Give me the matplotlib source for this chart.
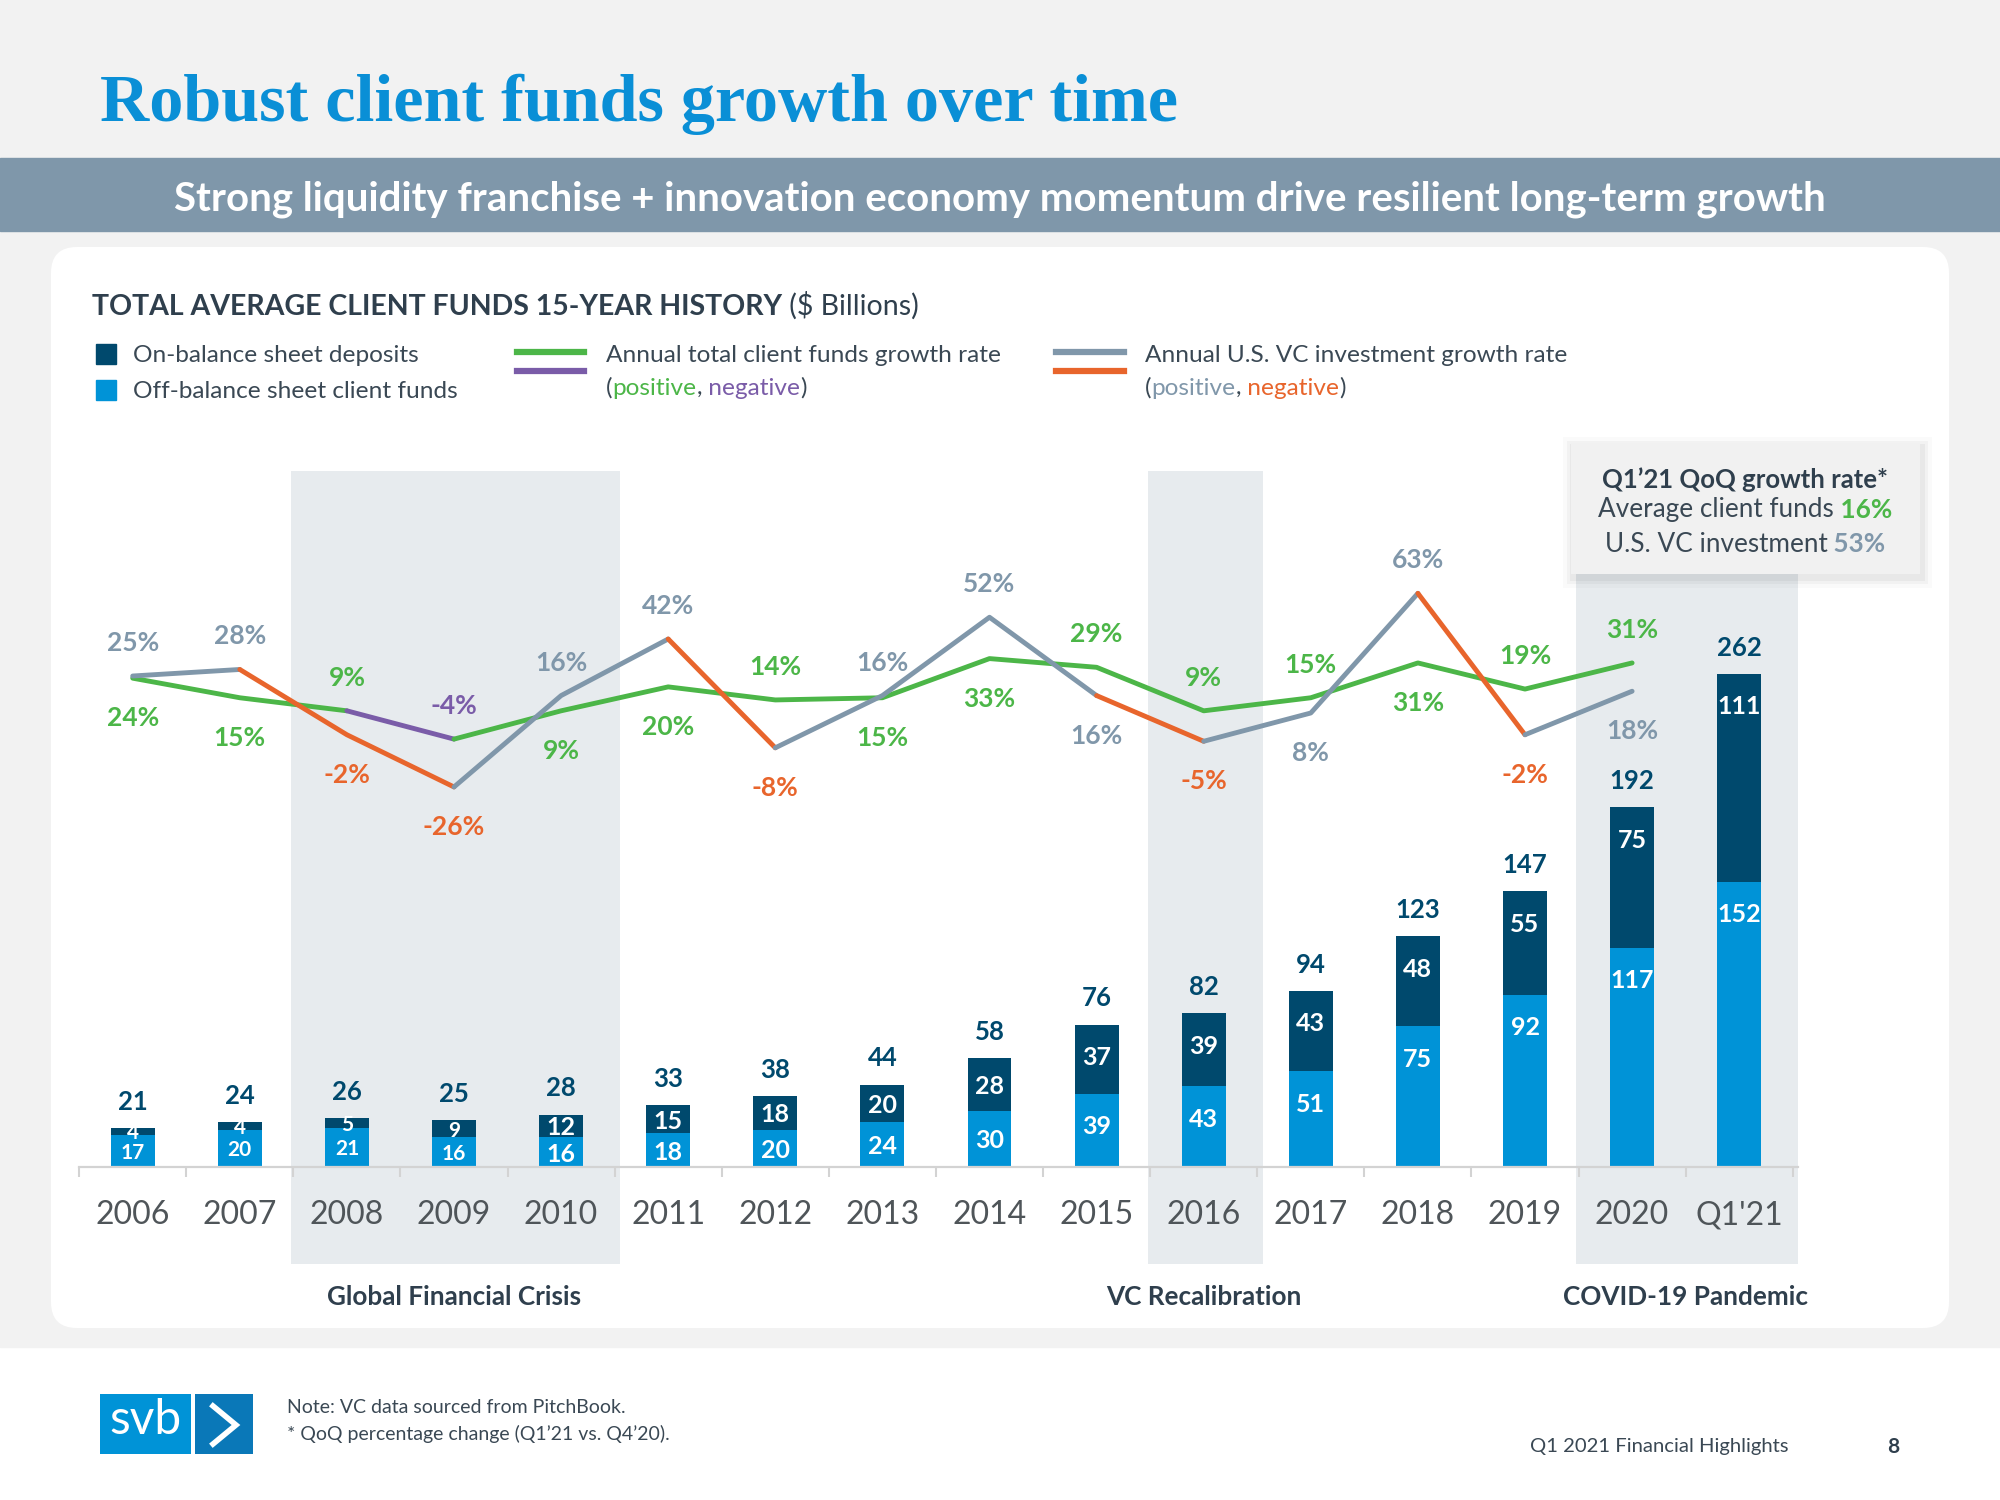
import numpy as np
import matplotlib
matplotlib.use('Agg')
import matplotlib.pyplot as plt
from matplotlib.patches import Rectangle, FancyBboxPatch
from matplotlib.offsetbox import TextArea, HPacker, AnnotationBbox

plt.rcParams['font.family'] = ['Lato', 'DejaVu Sans']

# ---------------- data ----------------
years = ['2006', '2007', '2008', '2009', '2010', '2011', '2012', '2013',
         '2014', '2015', '2016', '2017', '2018', '2019', '2020', "Q1'21"]
off_balance = [17, 20, 21, 16, 16, 18, 20, 24, 30, 39, 43, 51, 75, 92, 117, 152]
on_balance = [4, 4, 5, 9, 12, 15, 18, 20, 28, 37, 39, 43, 48, 55, 75, 111]
totals = [21, 24, 26, 25, 28, 33, 38, 44, 58, 76, 82, 94, 123, 147, 192, 262]
funds_growth = [24, 15, 9, -4, 9, 20, 14, 15, 33, 29, 9, 15, 31, 19, 31]
vc_growth = [25, 28, -2, -26, 16, 42, -8, 16, 52, 16, -5, 8, 63, -2, 18]
periods = [('Global Financial Crisis', 2, 4),
           ('VC Recalibration', 10, 10),
           ('COVID-19 Pandemic', 14, 15)]
qoq_funds = '16%'
qoq_vc = '53%'

# ---------------- colours ----------------
DARK = '#00496d'
LIGHT = '#0093d7'
TITLE_BLUE = '#0a8fd6'
SLATE = '#2f3f4d'
TEXT = '#3a4854'
BANNER = '#7f97aa'
SHADE = '#e7ebee'
PAGE = '#f2f2f2'
GREEN = '#4cb648'
PURPLE = '#7a5ca8'
GREY = '#8097aa'
ORANGE = '#e8652c'

# ---------------- layout (pixels) ----------------
W, H = 2000, 1500
X0_PX, DX_PX = 132.7, 107.1      # first category centre, spacing
BASE_PX, BAR_PX = 1167, 1.875    # bar baseline, px per $B
PCT0_PX, PCT_PX = 730.4, 2.176   # 0% line, px per %
AX_L, AX_R, AX_T, AX_B = 60, 1940, 471, 1264

fig = plt.figure(figsize=(W / 100, H / 100), dpi=100, facecolor='white')
renderer = fig.canvas.get_renderer()

bg = fig.add_axes([0, 0, 1, 1])
bg.set_xlim(0, W)
bg.set_ylim(H, 0)
bg.set_axis_off()


def fit(t, width):
    w = t.get_window_extent(renderer).width
    t.set_fontsize(t.get_fontsize() * width / w)


def rich(axis, x, y, parts, align=0.0, size=16):
    kids = [TextArea(s, textprops=dict(fontsize=size, **p)) for s, p in parts]
    box = HPacker(children=kids, align='baseline', pad=0, sep=0)
    ab = AnnotationBbox(box, (x, y), xycoords='data', box_alignment=(align, 0.5),
                        frameon=False, pad=0, annotation_clip=False)
    axis.add_artist(ab)


# page background, banner, panel
bg.add_patch(Rectangle((0, 0), W, 1347, color=PAGE, zorder=0))
bg.add_patch(Rectangle((0, 158), W, 73, color=BANNER, zorder=1))
bg.add_patch(FancyBboxPatch((51, 247), 1898, 1081,
                            boxstyle='round,pad=0,rounding_size=26',
                            fc='white', ec='none', zorder=1))

t = bg.text(100, 121, 'Robust client funds growth over time', family='Liberation Serif',
            weight='bold', color=TITLE_BLUE, fontsize=50, va='baseline', zorder=3)
fit(t, 1080)
t = bg.text(1000, 195, 'Strong liquidity franchise + innovation economy momentum drive resilient long-term growth',
            color='white', weight='bold', fontsize=28, ha='center', va='center_baseline', zorder=3)
fit(t, 1648)

rich(bg, 92, 306, [('TOTAL AVERAGE CLIENT FUNDS 15-YEAR HISTORY', dict(weight='bold', color=SLATE)),
                   (' ($ Billions)', dict(color=SLATE))], size=20.5)

# legend
LEG = 17.6
bg.add_patch(Rectangle((96, 344), 20, 20, color=DARK, zorder=3))
bg.add_patch(Rectangle((96, 380), 20, 20, color=LIGHT, zorder=3))
bg.text(133, 354, 'On-balance sheet deposits', fontsize=LEG, color=TEXT, va='center_baseline', zorder=3)
bg.text(133, 390, 'Off-balance sheet client funds', fontsize=LEG, color=TEXT, va='center_baseline', zorder=3)
bg.plot([517, 584], [352, 352], color=GREEN, lw=4.5, zorder=3)
bg.plot([517, 584], [371, 371], color=PURPLE, lw=4.5, zorder=3)
bg.text(606, 354, 'Annual total client funds growth rate', fontsize=LEG, color=TEXT,
        va='center_baseline', zorder=3)
rich(bg, 606, 388, [('(', dict(color=TEXT)), ('positive', dict(color=GREEN)), (',', dict(color=TEXT)),
                    (' negative', dict(color=PURPLE)), (')', dict(color=TEXT))], size=LEG)
bg.plot([1056, 1124], [352, 352], color=GREY, lw=4.5, zorder=3)
bg.plot([1056, 1124], [371, 371], color=ORANGE, lw=4.5, zorder=3)
bg.text(1145, 354, 'Annual U.S. VC investment growth rate', fontsize=LEG, color=TEXT,
        va='center_baseline', zorder=3)
rich(bg, 1145, 388, [('(', dict(color=TEXT)), ('positive', dict(color=GREY)), (',', dict(color=TEXT)),
                     (' negative', dict(color=ORANGE)), (')', dict(color=TEXT))], size=LEG)

# ---------------- chart ----------------
ax = fig.add_axes([AX_L / W, 1 - AX_B / H, (AX_R - AX_L) / W, (AX_B - AX_T) / H])
ax.patch.set_visible(False)
ax.set_xlim((AX_L - X0_PX) / DX_PX, (AX_R - X0_PX) / DX_PX)
ax.set_ylim(-(AX_B - BASE_PX) / BAR_PX, (BASE_PX - AX_T) / BAR_PX)

x = np.arange(len(years))
for name, first, last in periods:
    ax.axvspan(first - 0.52, last + 0.55, color=SHADE, lw=0, zorder=0)
    ax.annotate(name, ((first + last) / 2, 0), xycoords=ax.get_xaxis_transform(),
                xytext=(0, -31), textcoords='offset pixels', ha='center', va='center_baseline',
                fontsize=18.8, weight='bold', color=SLATE, annotation_clip=False)

ax.bar(x, off_balance, width=0.41, color=LIGHT, zorder=2)
ax.bar(x, on_balance, bottom=off_balance, width=0.41, color=DARK, zorder=2)

for i in x:
    top = off_balance[i] + on_balance[i]
    ax.annotate(str(totals[i]), (i, top), xytext=(0, 28), textcoords='offset pixels',
                ha='center', va='center_baseline', fontsize=18.5, weight='bold', color=DARK)
    small = 15 if totals[i] < 27 else 18
    for seg_top, h in ((top, on_balance[i]), (off_balance[i], off_balance[i])):
        ax.annotate(str(h), (i, seg_top), xytext=(0, -min(h * BAR_PX / 2, 31)),
                    textcoords='offset pixels', ha='center', va='center_baseline',
                    fontsize=small, weight='bold', color='white', zorder=3)

for s in ('top', 'right', 'left'):
    ax.spines[s].set_visible(False)
ax.spines['bottom'].set_position(('data', 0))
ax.spines['bottom'].set_bounds(-0.5, 15.55)
ax.spines['bottom'].set_color('#d3d3d3')
ax.spines['bottom'].set_linewidth(1.6)
ax.set_yticks([])
ax.set_xticks(x, years)
ax.set_xticks(np.arange(-0.5, len(years), 1), minor=True)
ax.tick_params(axis='x', which='major', length=0, pad=24, labelsize=23, labelcolor='#4f5559')
ax.tick_params(axis='x', which='minor', length=7, width=1.5, color='#d3d3d3', direction='out')

# growth-rate lines on their own scale
ax2 = ax.twinx()
ax2.set_ylim((PCT0_PX - AX_B) / PCT_PX, (PCT0_PX - AX_T) / PCT_PX)
ax2.set_axis_off()
gx = np.arange(len(funds_growth))


def colored_line(ys, pos_c, neg_c, z):
    cols = [pos_c if ys[k + 1] >= 0 else neg_c for k in range(len(ys) - 1)]
    start = 0
    for k in range(1, len(cols) + 1):
        if k == len(cols) or cols[k] != cols[start]:
            ax2.plot(gx[start:k + 1], ys[start:k + 1], color=cols[start], lw=3.5,
                     solid_capstyle='round', solid_joinstyle='round', zorder=z)
            start = k


colored_line(funds_growth, GREEN, PURPLE, 3)
colored_line(vc_growth, GREY, ORANGE, 4)

for i in gx:
    f, v = funds_growth[i], vc_growth[i]
    f_up = f > v
    ax2.annotate(f'{f}%', (i, f), xytext=(0, 35 if f_up else -38), textcoords='offset pixels',
                 ha='center', va='center_baseline', fontsize=19, weight='bold',
                 color=GREEN if f >= 0 else PURPLE)
    ax2.annotate(f'{v}%', (i, v), xytext=(0, -38 if f_up else 35), textcoords='offset pixels',
                 ha='center', va='center_baseline', fontsize=19, weight='bold',
                 color=GREY if v >= 0 else ORANGE)

# ---------------- overlay: QoQ box + footer ----------------
top = fig.add_axes([0, 0, 1, 1], zorder=10)
top.set_xlim(0, W)
top.set_ylim(H, 0)
top.set_axis_off()
top.patch.set_visible(False)
for k, a in ((10, 0.02), (6, 0.03), (3, 0.04)):
    top.add_patch(Rectangle((1571 - k + 2, 443 - k + 4), 349 + 2 * k, 131 + 2 * k,
                            color='#000000', alpha=a, lw=0))
top.add_patch(Rectangle((1571, 443), 349, 131, color='#f1f1f1', lw=0))
top.text(1745, 478, 'Q1’21 QoQ growth rate*', ha='center', va='center_baseline',
         fontsize=18.5, weight='bold', color=SLATE)
rich(top, 1745, 510, [('Average client funds', dict(color=TEXT)),
                      (' ' + qoq_funds, dict(color=GREEN, weight='bold'))], align=0.5, size=18.8)
rich(top, 1745, 544, [('U.S. VC investment', dict(color=TEXT)),
                      (' ' + qoq_vc, dict(color=GREY, weight='bold'))], align=0.5, size=18.8)

# logo
top.add_patch(Rectangle((100, 1394), 91, 60, color='#0093d7', lw=0))
top.add_patch(Rectangle((195, 1394), 58, 60, color='#0a78b8', lw=0))
t = top.text(145, 1420, 'svb', ha='center', va='center', color='white', fontsize=30)
fit(t, 72)
top.plot([213, 236, 213], [1406, 1425, 1444], color='white', lw=4, solid_joinstyle='miter')

top.text(287, 1406, 'Note: VC data sourced from PitchBook.', fontsize=14, color=TEXT,
         va='center_baseline')
top.text(287, 1432, '* QoQ percentage change (Q1’21 vs. Q4’20).', fontsize=14, color=TEXT,
         va='center_baseline')
top.text(1530, 1445, 'Q1 2021 Financial Highlights', fontsize=14.6, color=TEXT, va='center_baseline')
top.text(1893, 1445, '8', fontsize=15, color=SLATE, weight='bold', ha='center', va='center_baseline')

fig.savefig('out.png', dpi=100, facecolor='white')
